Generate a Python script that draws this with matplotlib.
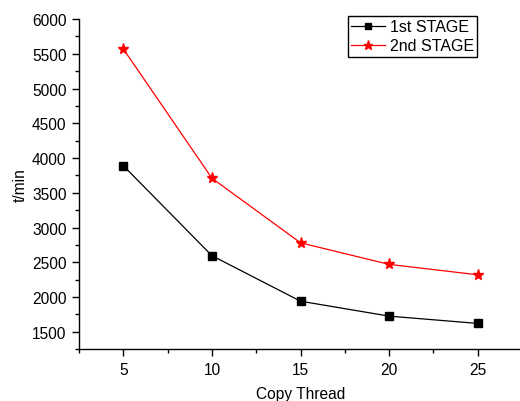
import numpy as np
import matplotlib.pyplot as plt
from matplotlib.ticker import MultipleLocator

plt.rcParams['font.family'] = ['Liberation Sans', 'DejaVu Sans']

# data
threads = [5, 10, 15, 20, 25]
stage1 = [3890, 2595, 1940, 1725, 1620]
stage2 = [5570, 3710, 2780, 2470, 2320]

fig = plt.figure(figsize=(5.2, 4.02), dpi=100)
ax = fig.add_axes([0.152, 0.129, 0.852, 0.821])

ax.plot(threads, stage1, color='black', lw=0.9, marker='s', ms=5.5, label='1st STAGE')
ax.plot(threads, stage2, color='red', lw=0.9, marker='*', ms=8, label='2nd STAGE')

ax.set_xlim(2.5, 27.5)
ax.set_ylim(1250, 6000)
ax.xaxis.set_major_locator(MultipleLocator(5))
ax.xaxis.set_minor_locator(MultipleLocator(2.5))
ax.yaxis.set_major_locator(MultipleLocator(500))
ax.yaxis.set_minor_locator(MultipleLocator(250))
ax.tick_params(which='major', length=5, width=1, labelsize=11.2, direction='out', pad=4)
ax.tick_params(which='minor', length=3, width=1, direction='out')

for s in ['top', 'right']:
    ax.spines[s].set_visible(False)
ax.spines['left'].set_linewidth(1)
ax.spines['bottom'].set_linewidth(1)

ax.set_xlabel('Copy Thread', fontsize=11.2, labelpad=7)
ax.set_ylabel('t/min', fontsize=11.2, labelpad=3)

leg = ax.legend(loc='upper right', bbox_to_anchor=(0.898, 1.009), fontsize=11.5,
                fancybox=False, edgecolor='black', framealpha=1,
                borderpad=0.2, handlelength=2.1, labelspacing=0.25, handletextpad=0.3,
                borderaxespad=0, markerscale=0.85)
leg.get_frame().set_linewidth(1)

fig.savefig('out.png', dpi=100)
